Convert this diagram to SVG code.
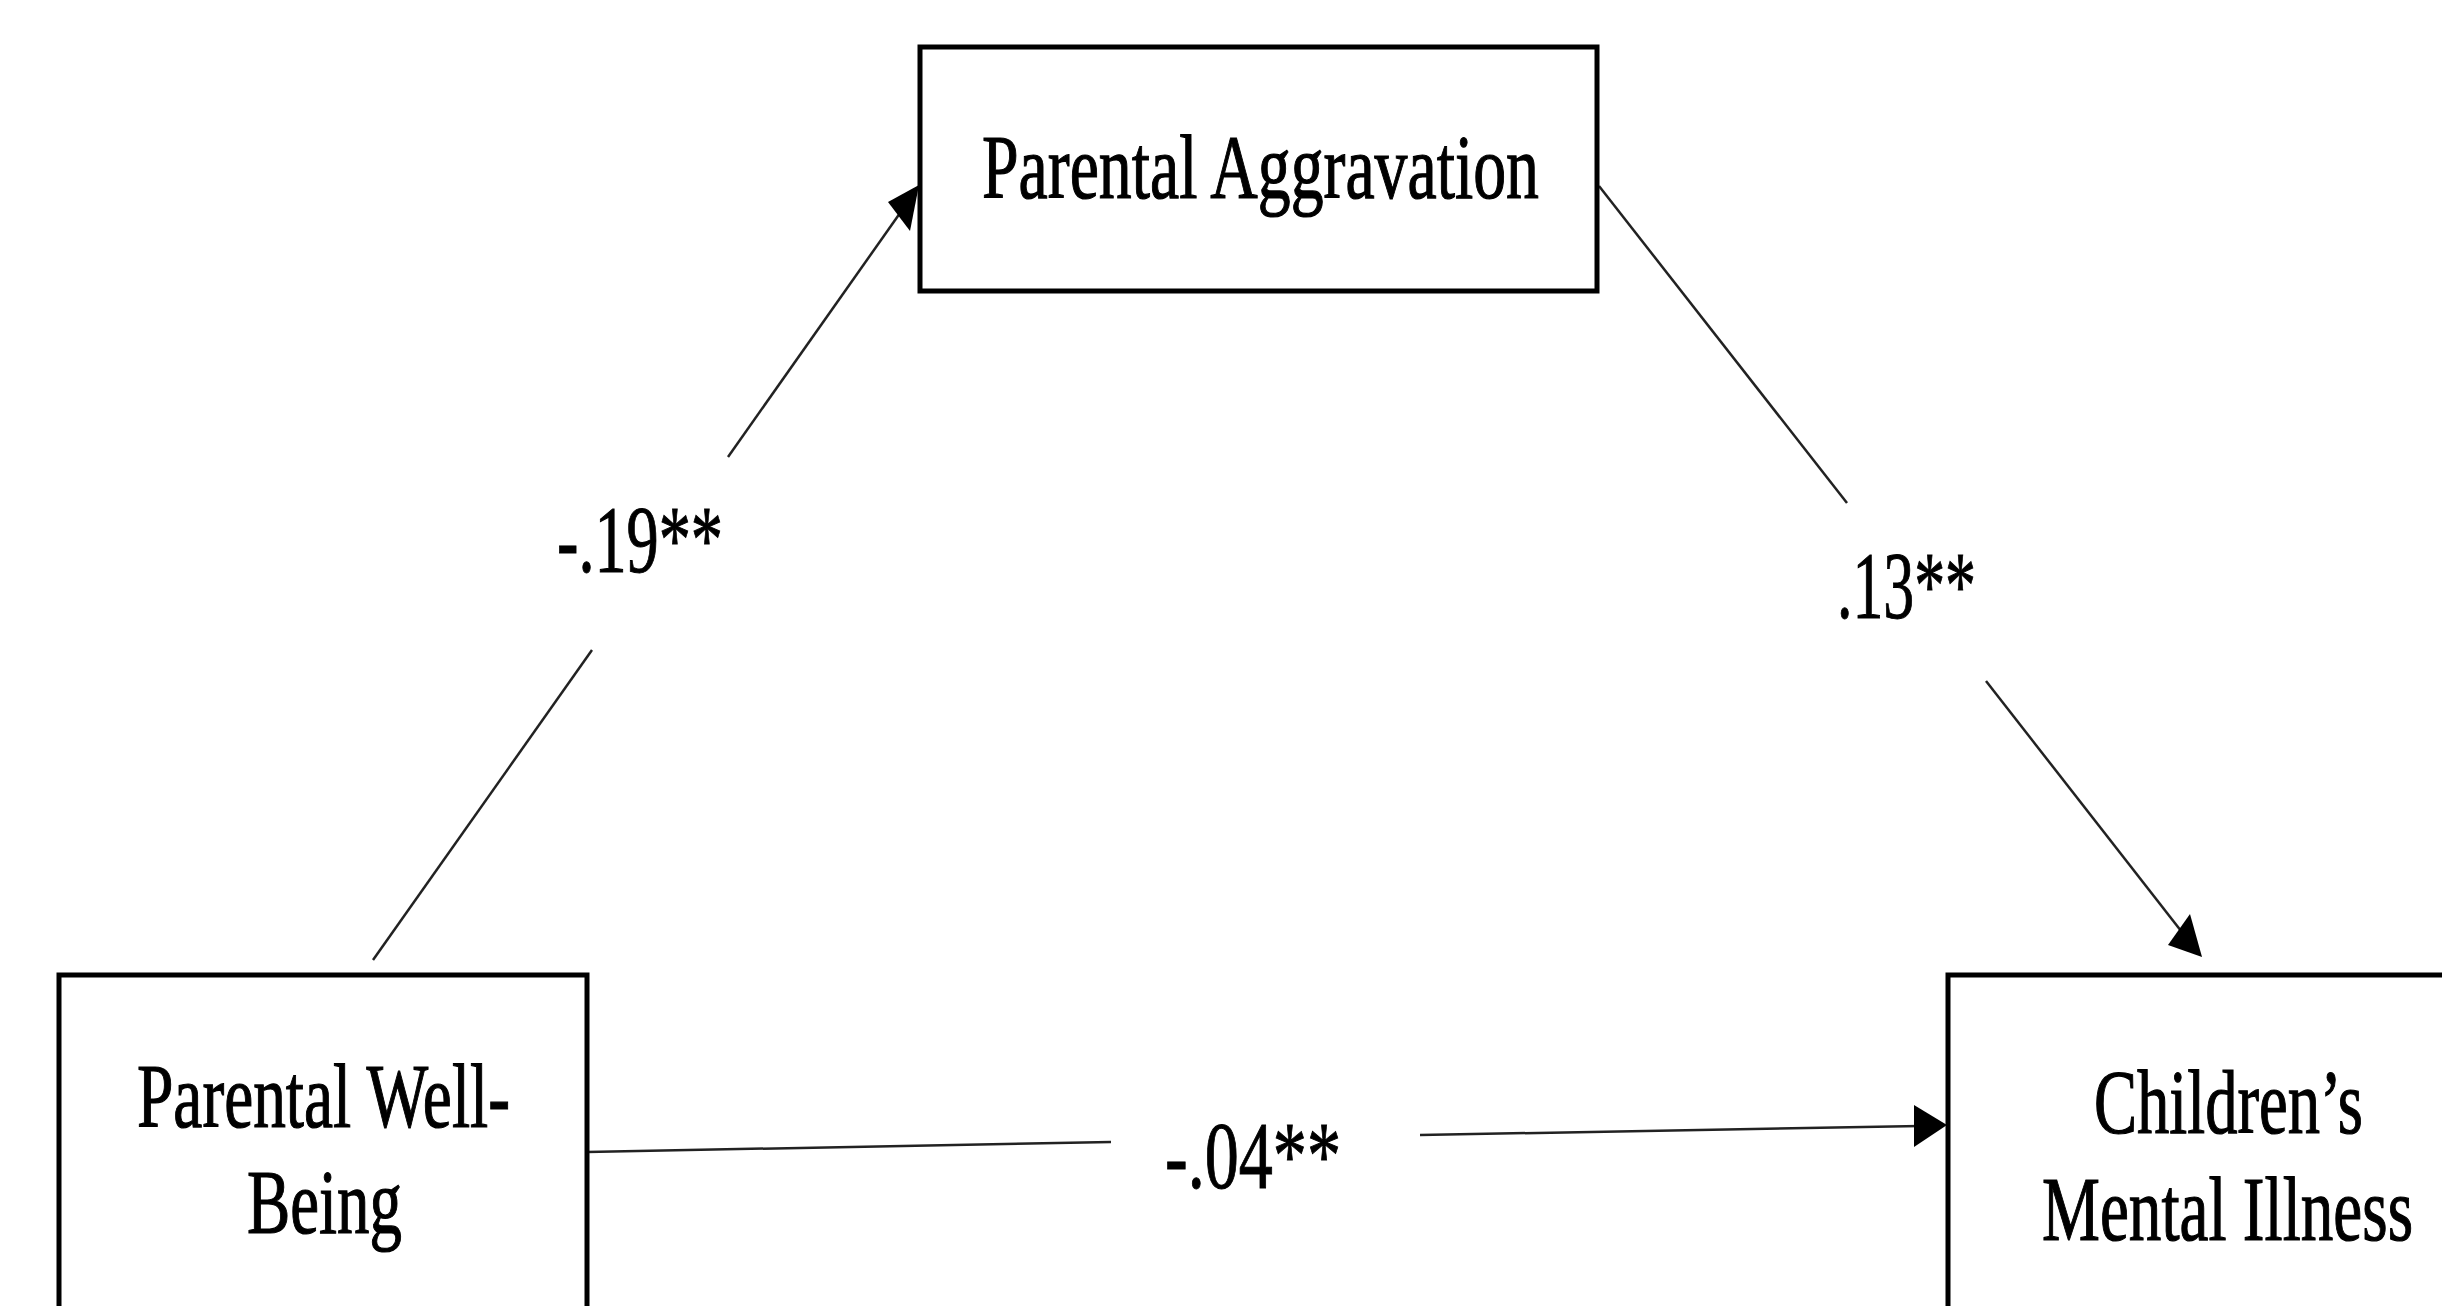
<svg xmlns="http://www.w3.org/2000/svg" width="2442" height="1306" viewBox="0 0 2442 1306">
<style>
.box{fill:#fff;stroke:#000;stroke-width:5}
.t{font-family:"Liberation Serif","Times New Roman",serif;font-size:92px;fill:#000;stroke:#000;stroke-width:1.2}
.lbl{font-family:"Liberation Serif","Times New Roman",serif;font-size:95px;fill:#000;stroke:#000;stroke-width:1}
.ln{stroke:#222;stroke-width:2.5;fill:none}
.ah{fill:#000}
</style>
<rect width="2442" height="1306" fill="#fff"/>
<g id="connectors">
<line class="ln" x1="373" y1="960" x2="592" y2="650"/>
<line class="ln" x1="728" y1="457" x2="905" y2="206"/>
<polygon class="ah" points="919,185 888,202 910,231"/>
<line class="ln" x1="1599" y1="186" x2="1847" y2="503"/>
<line class="ln" x1="1986" y1="681" x2="2185" y2="936"/>
<polygon class="ah" points="2202,957 2168,945 2190,914"/>
<line class="ln" x1="587" y1="1152" x2="1111" y2="1142"/>
<line class="ln" x1="1420" y1="1135" x2="1920" y2="1126"/>
<polygon class="ah" points="1947,1125 1914,1105 1914,1147"/>
<text class="lbl" x="557" y="572" textLength="166" lengthAdjust="spacingAndGlyphs">-.19**</text>
<text class="lbl" x="1837" y="618" textLength="139" lengthAdjust="spacingAndGlyphs">.13**</text>
<text class="lbl" x="1165" y="1188" textLength="176" lengthAdjust="spacingAndGlyphs">-.04**</text>
</g>
<g id="node-aggravation">
<rect class="box" x="920" y="47" width="677" height="244"/>
<text class="t" x="982" y="198" textLength="557" lengthAdjust="spacingAndGlyphs">Parental Aggravation</text>
</g>
<g id="node-wellbeing">
<rect class="box" x="59" y="975" width="528" height="360"/>
<text class="t" x="137" y="1127" textLength="373" lengthAdjust="spacingAndGlyphs">Parental Well-</text>
<text class="t" x="247" y="1233" textLength="155" lengthAdjust="spacingAndGlyphs">Being</text>
</g>
<g id="node-children">
<rect class="box" x="1948" y="975" width="560" height="360"/>
<text class="t" x="2094" y="1133" textLength="269" lengthAdjust="spacingAndGlyphs">Children’s</text>
<text class="t" x="2042" y="1240" textLength="371" lengthAdjust="spacingAndGlyphs">Mental Illness</text>
</g>
</svg>
